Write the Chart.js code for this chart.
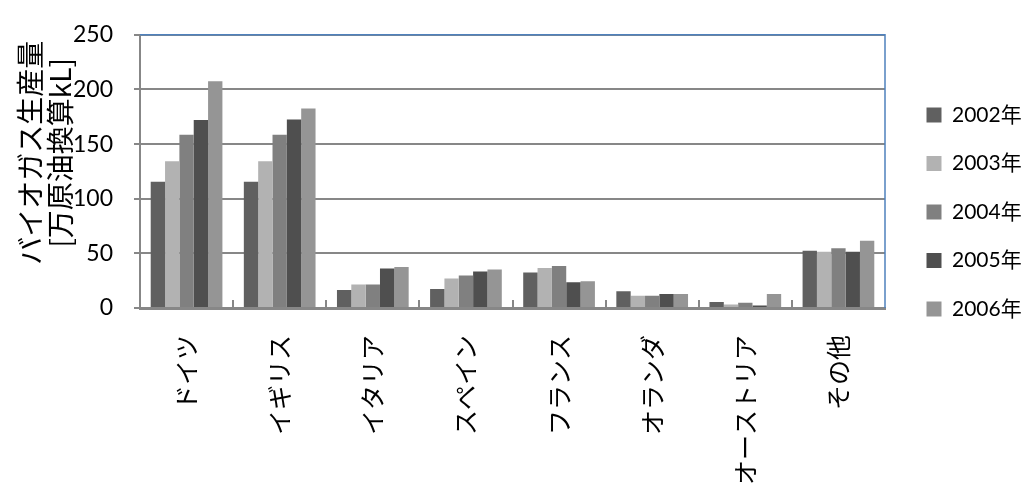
<!DOCTYPE html>
<html>
<head>
<meta charset="utf-8">
<script src="https://cdn.jsdelivr.net/npm/chart.js@4/dist/chart.umd.min.js"></script>
<style>
  html, body { margin: 0; padding: 0; background: #ffffff; }
  #wrap { width: 1027px; height: 486px; }
</style>
</head>
<body>
<div id="wrap"><canvas id="c" width="1027" height="486"></canvas></div>
<script>
// Biogas production by country, 2002-2006 (10,000 kL oil equivalent)
const countries = ['ドイツ', 'イギリス', 'イタリア', 'スペイン', 'フランス', 'オランダ', 'オーストリア', 'その他'];
const years = ['2002年', '2003年', '2004年', '2005年', '2006年'];
const v2002 = [115.5, 115.5, 16.5, 17.4, 32.4, 15.3, 5.6, 52.4];
const v2003 = [134.4, 134.4, 21.5, 27.1, 36.5, 11.2, 3.3, 51.5];
const v2004 = [158.5, 158.5, 21.5, 29.7, 38.5, 11.2, 4.7, 54.7];
const v2005 = [172.0, 172.6, 36.2, 33.5, 23.5, 12.7, 2.4, 51.5];
const v2006 = [207.6, 182.5, 37.6, 35.3, 24.4, 12.7, 12.7, 61.5];
const yTicks = [0, 50, 100, 150, 200, 250];
const yTitle = ['バイオガス生産量', '[万原油換算kL]'];

const seriesValues = [v2002, v2003, v2004, v2005, v2006];
const seriesColors = ['#606060', '#b2b2b2', '#808080', '#4f4f4f', '#959595'];

const AXIS_GRAY = '#878787';
const FRAME_BLUE = '#4f81bd';
const LATIN = 'Lato, "Noto Sans CJK JP", sans-serif';
const CJK = '"Noto Sans CJK JP", sans-serif';

// Plot frame: blue top/right edges and inward category tick marks on the x axis
const framePlugin = {
  id: 'frame',
  afterDatasetsDraw(chart) {
    const { ctx, chartArea: a, scales: { x } } = chart;
    ctx.save();
    ctx.strokeStyle = FRAME_BLUE;
    ctx.lineWidth = 1.5;
    ctx.beginPath();
    ctx.moveTo(a.left, a.top);
    ctx.lineTo(a.right, a.top);
    ctx.lineTo(a.right, a.bottom);
    ctx.stroke();

    ctx.strokeStyle = AXIS_GRAY;
    ctx.lineWidth = 2;
    ctx.beginPath();
    for (let i = 1; i < countries.length; i++) {
      const px = Math.round((x.getPixelForValue(i - 1) + x.getPixelForValue(i)) / 2);
      ctx.moveTo(px, a.bottom);
      ctx.lineTo(px, a.bottom - 8);
    }
    ctx.stroke();
    ctx.restore();
  }
};

// Two-line vertical axis title on the left
const yTitlePlugin = {
  id: 'yTitle',
  afterDraw(chart) {
    const { ctx, chartArea: a } = chart;
    const cy = a.top + 118;
    ctx.save();
    ctx.fillStyle = '#000000';
    ctx.font = '28px ' + CJK;
    ctx.textAlign = 'center';
    ctx.textBaseline = 'middle';
    yTitle.forEach((line, i) => {
      ctx.save();
      ctx.translate(30 + i * 30, cy);
      ctx.rotate(-Math.PI / 2);
      ctx.fillText(line, 0, 0);
      ctx.restore();
    });
    ctx.restore();
  }
};

new Chart(document.getElementById('c'), {
  type: 'bar',
  data: {
    labels: countries,
    datasets: years.map((y, i) => ({
      label: y,
      data: seriesValues[i],
      backgroundColor: seriesColors[i],
      borderWidth: 0,
      categoryPercentage: 0.77,
      barPercentage: 1.0,
      yAxisID: 'y'
    }))
  },
  options: {
    responsive: false,
    animation: false,
    devicePixelRatio: 1,
    layout: { padding: { top: 24, bottom: 0, left: 0, right: 0 } },
    plugins: {
      legend: {
        position: 'right',
        align: 'start',
        maxWidth: 128,
        title: {
          display: true,
          text: '',
          font: { size: 10, lineHeight: 1 },
          padding: { top: 43, bottom: 0 }
        },
        labels: {
          boxWidth: 15,
          boxHeight: 15,
          padding: 27.5,
          color: '#000000',
          font: { family: LATIN, size: 21 }
        }
      },
      tooltip: { enabled: false }
    },
    scales: {
      x: {
        z: 1,
        grid: { display: false, drawTicks: false },
        border: { display: true, color: AXIS_GRAY, width: 3 },
        ticks: {
          autoSkip: false,
          minRotation: 90,
          maxRotation: 90,
          padding: 27,
          color: '#000000',
          font: { family: CJK, size: 25 }
        },
        afterFit(s) { s.height = 178; }
      },
      y: {
        min: yTicks[0],
        max: yTicks[yTicks.length - 1],
        grid: { color: AXIS_GRAY, lineWidth: 2, tickLength: 6, drawTicks: true },
        border: { display: true, color: AXIS_GRAY, width: 2 },
        ticks: {
          stepSize: yTicks[1] - yTicks[0],
          padding: 21,
          color: '#000000',
          font: { family: LATIN, size: 23 }
        },
        afterFit(s) { s.width = 140; }
      },
      y2: {
        position: 'right',
        display: true,
        grid: { display: false, drawTicks: false },
        border: { display: false },
        ticks: { display: false },
        afterFit(s) { s.width = 14; }
      }
    }
  },
  plugins: [framePlugin, yTitlePlugin]
});
</script>
</body>
</html>
